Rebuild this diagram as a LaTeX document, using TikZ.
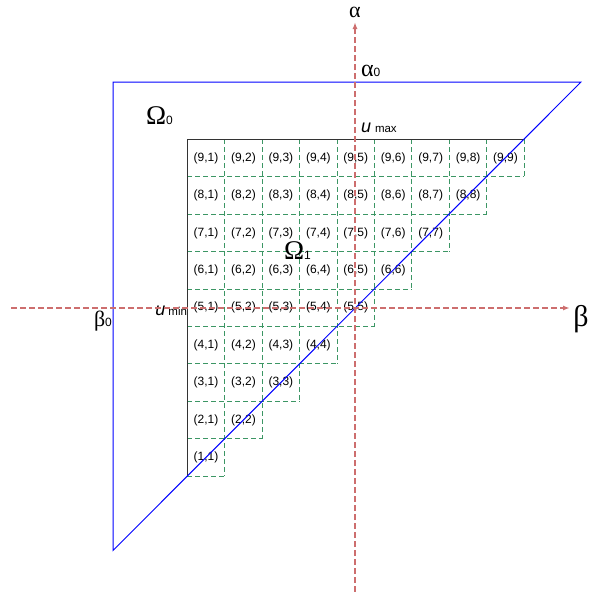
\documentclass[tikz,border=0pt]{standalone}
\usepackage{fontspec}
\setmainfont{Liberation Sans}
\newfontfamily\grk{Liberation Serif}
\usetikzlibrary{arrows.meta}
\definecolor{axred}{RGB}{205,110,110}
\definecolor{cellgreen}{RGB}{60,150,100}
\begin{document}
\begin{tikzpicture}[x=1pt,y=1pt,
 cell/.style={minimum width=37.44pt, minimum height=37.44pt, inner sep=0pt, outer sep=0pt, font=\fontsize{12}{12}\selectfont},
 gridline/.style={cellgreen, line width=1pt, dash pattern=on 5pt off 3pt},
 edgeline/.style={black!80, line width=1pt},
 axisline/.style={axred, line width=1.5pt, dash pattern=on 6pt off 3pt},
 bound/.style={blue, line width=1pt},
 lbl/.style={inner sep=0pt, outer sep=0pt}]
\useasboundingbox (0,0) rectangle (589,-592);
% cells
\foreach \i in {1,...,9}{
  \foreach \j in {1,...,\i}{
    \node[cell] (c-\i-\j) at ({187.3+(\j-0.5)*37.44},{-476.3+(\i-0.5)*37.44}) {(\i,\j)};
  }}
\foreach \i in {1,...,9} \draw[gridline] (c-\i-1.south west) -- (c-\i-\i.south east);
\foreach \j in {1,...,9} \draw[gridline] (c-9-\j.north east) -- (c-\j-\j.south east);
\draw[edgeline] (c-1-1.south west) -- (c-9-1.north west) -- (c-9-9.north east);
% boundary triangle
\coordinate (A) at (113,-82);
\coordinate (B) at (581,-82);
\coordinate (C) at (113,-550.5);
\draw[bound] (A) -- (B) -- (C) -- cycle;
% labels
\node[lbl, anchor=base west] (om0) at (146,-124) {{\grk\fontsize{27}{27}\selectfont Ω}\fontsize{12}{12}\selectfont 0};
\node[lbl, anchor=base west] (om1) at (284,-259.5) {{\grk\fontsize{27}{27}\selectfont Ω}\fontsize{12}{12}\selectfont 1};
\node[lbl, anchor=base west] (a0) at (361,-76.5) {{\grk\fontsize{24}{24}\selectfont α}\fontsize{12}{12}\selectfont 0};
\node[lbl, anchor=base] (alab) at (355,-17) {\grk\fontsize{22}{22}\selectfont α};
\node[lbl, anchor=base west] (umax) at (361,-132) {{\fontsize{18}{18}\selectfont\itshape u}\hspace{4pt}{\fontsize{11.5}{12}\selectfont max}};
\node[lbl, anchor=base east] (umin) at (187,-315) {{\fontsize{18}{18}\selectfont\itshape u}\hspace{3pt}{\fontsize{11.5}{12}\selectfont min}};
\node[lbl, anchor=base west] (b0) at (94,-326) {{\grk\fontsize{22}{22}\selectfont β}\fontsize{12}{12}\selectfont 0};
\node[lbl] (blab) at (581,-319) {\grk\fontsize{30}{30}\selectfont β};
% axes
\coordinate (hx0) at (11,-308);
\coordinate (hx1) at (570,-308);
\coordinate (vy0) at (355,-592);
\coordinate (vy1) at (355,-22);
\draw[axisline, -{Latex[length=7pt,width=5pt]}] (hx0) -- (hx1);
\draw[axisline, -{Latex[length=7pt,width=5pt]}] (vy0) -- (vy1);
\end{tikzpicture}
\end{document}
